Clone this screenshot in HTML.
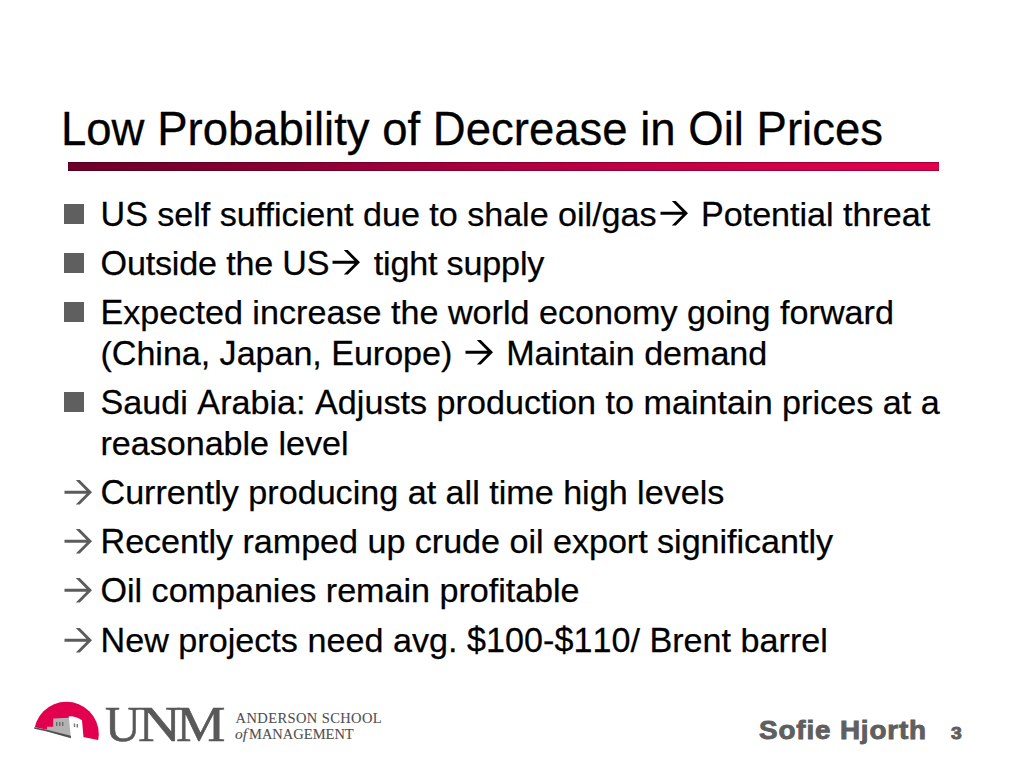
<!DOCTYPE html>
<html><head><meta charset="utf-8"><style>
html,body{margin:0;padding:0;background:#fff;}
body{width:1024px;height:768px;position:relative;overflow:hidden;font-family:"Liberation Sans",sans-serif;}
.title{position:absolute;left:61px;top:0;font-size:45.5px;line-height:54px;color:#000;white-space:nowrap;-webkit-text-stroke:0.3px #000;}
.bar{position:absolute;left:68px;top:162px;width:871px;height:9px;background:linear-gradient(to right,#6c0028 0%,#8a0034 25%,#b00041 50%,#cc0048 75%,#e4004f 100%);box-shadow:inset 0 1px 1px rgba(40,0,10,0.35),inset 0 -1px 1px rgba(40,0,10,0.35);}
.ln{position:absolute;left:100.5px;font-size:34.13px;line-height:40px;color:#000;white-space:nowrap;-webkit-text-stroke:0.25px #000;}
.sq{position:absolute;left:64px;width:19.7px;height:20px;background:#5f5f5f;}
.c{display:inline-block;transform:scaleY(1.02);transform-origin:50% 32px;}
.ct{display:inline-block;transform:scaleY(1.05);transform-origin:50% 42px;}
.ia{display:inline-block;position:relative;width:35px;height:0;}
.ia svg{position:absolute;left:-2px;bottom:-1.6px;}
.ba{position:absolute;left:58.5px;}
.logo{position:absolute;left:25px;top:695px;}
.g{position:absolute;top:693.8px;font-family:"Liberation Serif",serif;font-size:51px;line-height:60px;color:#595959;white-space:nowrap;transform-origin:0 0;-webkit-text-stroke:0.6px #595959;}
.as{position:absolute;font-family:"Liberation Serif",serif;font-size:14.5px;line-height:16px;color:#505050;white-space:nowrap;-webkit-text-stroke:0.1px #505050;}
.ft{position:absolute;font-weight:bold;color:#5f5f5f;white-space:nowrap;transform-origin:0 0;-webkit-text-stroke:0.9px #5f5f5f;}
</style></head><body>
<div class="title" style="top:103.3px"><span class="ct">L</span>ow <span class="ct">P</span>robability of <span class="ct">D</span>ecrease in <span class="ct">O</span>il <span class="ct">P</span>rices</div>
<div class="bar"></div>
<div class="ln" style="top:194.0px;letter-spacing:-0.027px"><span class="c">U</span><span class="c">S</span> self sufficient due to shale oil/gas<span class="ia"><svg width="36" height="32" viewBox="0 0 36 32"><path d="M16.8,5.1 L20.8,5.1 L33,17.3 L20.8,29.5 L16.8,29.5 L27.5,18.8 L5.5,18.8 L5.5,15.7 L27.4,15.7 Z" fill="#000"/></svg></span> <span class="c">P</span>otential threat</div>
<div class="sq" style="top:203.6px"></div>
<div class="ln" style="top:243.1px;letter-spacing:-0.181px"><span class="c">O</span>utside the <span class="c">U</span><span class="c">S</span><span class="ia"><svg width="36" height="32" viewBox="0 0 36 32"><path d="M16.8,5.1 L20.8,5.1 L33,17.3 L20.8,29.5 L16.8,29.5 L27.5,18.8 L5.5,18.8 L5.5,15.7 L27.4,15.7 Z" fill="#000"/></svg></span> tight supply</div>
<div class="sq" style="top:252.7px"></div>
<div class="ln" style="top:292.1px;letter-spacing:0.010px"><span class="c">E</span>xpected increase the world economy going forward</div>
<div class="sq" style="top:301.7px"></div>
<div class="ln" style="top:333.1px;letter-spacing:-0.051px">(<span class="c">C</span>hina, <span class="c">J</span>apan, <span class="c">E</span>urope) <span class="ia"><svg width="36" height="32" viewBox="0 0 36 32"><path d="M16.8,5.1 L20.8,5.1 L33,17.3 L20.8,29.5 L16.8,29.5 L27.5,18.8 L5.5,18.8 L5.5,15.7 L27.4,15.7 Z" fill="#000"/></svg></span> <span class="c">M</span>aintain demand</div>
<div class="ln" style="top:382.2px;letter-spacing:0.013px"><span class="c">S</span>audi <span class="c">A</span>rabia: <span class="c">A</span>djusts production to maintain prices at a</div>
<div class="sq" style="top:391.8px"></div>
<div class="ln" style="top:423.2px;letter-spacing:-0.033px">reasonable level</div>
<div class="ln" style="top:472.3px;letter-spacing:-0.005px"><span class="c">C</span>urrently producing at all time high levels</div>
<svg class="ba" style="top:475.3px" width="36" height="32" viewBox="0 0 36 32"><path d="M16.8,5.1 L20.8,5.1 L33,17.3 L20.8,29.5 L16.8,29.5 L27.5,18.8 L5.5,18.8 L5.5,15.7 L27.4,15.7 Z" fill="#5c5c5c"/></svg>
<div class="ln" style="top:521.4px;letter-spacing:-0.031px"><span class="c">R</span>ecently ramped up crude oil export significantly</div>
<svg class="ba" style="top:524.4px" width="36" height="32" viewBox="0 0 36 32"><path d="M16.8,5.1 L20.8,5.1 L33,17.3 L20.8,29.5 L16.8,29.5 L27.5,18.8 L5.5,18.8 L5.5,15.7 L27.4,15.7 Z" fill="#5c5c5c"/></svg>
<div class="ln" style="top:570.4px;letter-spacing:-0.027px"><span class="c">O</span>il companies remain profitable</div>
<svg class="ba" style="top:573.4px" width="36" height="32" viewBox="0 0 36 32"><path d="M16.8,5.1 L20.8,5.1 L33,17.3 L20.8,29.5 L16.8,29.5 L27.5,18.8 L5.5,18.8 L5.5,15.7 L27.4,15.7 Z" fill="#5c5c5c"/></svg>
<div class="ln" style="top:619.5px;letter-spacing:0.016px"><span class="c">N</span>ew projects need avg. <span class="c">$</span><span class="c">1</span><span class="c">0</span><span class="c">0</span>-<span class="c">$</span><span class="c">1</span><span class="c">1</span><span class="c">0</span>/ <span class="c">B</span>rent barrel</div>
<svg class="ba" style="top:622.5px" width="36" height="32" viewBox="0 0 36 32"><path d="M16.8,5.1 L20.8,5.1 L33,17.3 L20.8,29.5 L16.8,29.5 L27.5,18.8 L5.5,18.8 L5.5,15.7 L27.4,15.7 Z" fill="#5c5c5c"/></svg>

<svg class="logo" width="110" height="60" viewBox="25 695 110 60">
  <defs>
    <clipPath id="above"><polygon points="0,0 200,0 200,760.7 0,720.3"/></clipPath>
  </defs>
  <g clip-path="url(#above)">
    <circle cx="66.4" cy="734.2" r="32.4" fill="#e2004e"/>
  </g>
  <path d="M68.7,716.4 Q75,715.8 82,720.3 L83.5,737.6 L70.8,737.6 L68.7,735 Z" fill="#ffffff"/>
  <polygon points="46.9,726.8 53.2,726.8 53.2,718.4 68.9,717.7 70.8,737.4 46.9,731" fill="#b2b2b2"/>
  <polygon points="34.2,727.2 46.9,729.8 70.8,735.8 71,738.2 46.9,731.6 34.2,728.8" fill="#505050"/>
  <rect x="56" y="722" width="1.4" height="4" fill="#6a6a6a"/>
  <rect x="59" y="722" width="1.4" height="4" fill="#6a6a6a"/>
  <rect x="62" y="722" width="1.4" height="4" fill="#6a6a6a"/>
  <rect x="73.8" y="723.5" width="1.4" height="3.5" fill="#777"/>
  <rect x="76.6" y="724" width="1.4" height="3.5" fill="#777"/>
</svg>

<div class="g" style="left:105px;transform:scaleX(0.97)">U</div>
<div class="g" style="left:138.4px;transform:scaleX(1.17)">N</div>
<div class="g" style="left:175.5px;transform:scaleX(1.09)">M</div>
<div class="as" style="left:235.6px;top:710.2px;letter-spacing:0.39px">ANDERSON SCHOOL</div>
<div class="as" style="left:235px;top:725.5px"><i style="font-size:15.5px">of</i></div>
<div class="as" style="left:249px;top:725.5px">MANAGEMENT</div>
<div class="ft" style="left:758.5px;top:715.7px;font-size:26px;line-height:28px;letter-spacing:0.8px;transform:scaleX(1.07)">Sofie Hjorth</div>
<div class="ft" style="left:951px;top:724.7px;font-size:16px;line-height:18px;transform:scaleX(1.2)">3</div>
</body></html>
